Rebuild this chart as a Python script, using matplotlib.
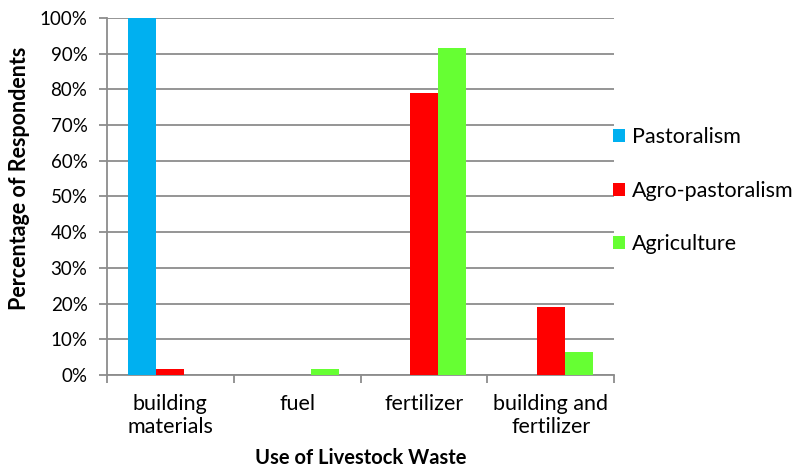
import matplotlib
matplotlib.use("Agg")
import matplotlib.pyplot as plt
import numpy as np
from matplotlib.patches import Patch
from matplotlib.ticker import FuncFormatter

plt.rcParams['font.family'] = ['Lato', 'DejaVu Sans']

categories = ["building\nmaterials", "fuel", "fertilizer", "building and\nfertilizer"]
series_names = ["Pastoralism", "Agro-pastoralism", "Agriculture"]
pastoralism = [100, 0, 0, 0]
agro_pastoralism = [1.7, 0, 78.9, 19.1]
agriculture = [0, 1.6, 91.6, 6.5]
colors = ["#00B0F0", "#FF0000", "#66FF33"]

fig = plt.figure(figsize=(8.04, 4.71), dpi=100)
ax = fig.add_axes([0.133, 0.204, 0.631, 0.758])

x = np.arange(len(categories))
width = 1 / 4.5
for i, (vals, col) in enumerate(zip([pastoralism, agro_pastoralism, agriculture], colors)):
    ax.bar(x + (i - 1) * width, vals, width, color=col, zorder=3)

ax.set_xlim(-0.5, len(categories) - 0.5)
ax.set_ylim(0, 100)
ax.set_yticks(np.arange(0, 101, 10))
ax.yaxis.set_major_formatter(FuncFormatter(lambda v, p: f"{int(v)}%"))
ax.yaxis.grid(True, color="#8C8C8C", linewidth=1.3, zorder=0)

ax.set_xticks(np.arange(-0.5, len(categories), 1.0))
ax.set_xticklabels([])
ax.set_xticks(x, minor=True)
ax.set_xticklabels(categories, minor=True, fontsize=15.5, linespacing=1.15)
ax.tick_params(axis="x", which="minor", length=0, pad=14)
ax.tick_params(axis="x", which="major", length=6, width=1.3, color="#8C8C8C")
ax.tick_params(axis="y", length=6, width=1.3, color="#8C8C8C", labelsize=13.5, pad=8)

for side in ["top", "right"]:
    ax.spines[side].set_visible(False)
for side in ["left", "bottom"]:
    ax.spines[side].set_color("#8C8C8C")
    ax.spines[side].set_linewidth(1.3)

ax.set_ylabel("Percentage of Respondents", fontsize=15.5, fontweight="bold")
ax.set_xlabel("Use of Livestock Waste", fontsize=14.5, fontweight="bold", labelpad=8)
ax.yaxis.set_label_coords(-0.152, 0.55)

handles = [Patch(facecolor=c, label=n) for n, c in zip(series_names, colors)]
fig.legend(handles=handles, loc="center left", bbox_to_anchor=(0.752, 0.595),
           frameon=False, fontsize=15.5, handlelength=0.55, handleheight=0.55,
           handletextpad=0.3, labelspacing=1.55, borderaxespad=0)

fig.savefig("out.png", dpi=100)
